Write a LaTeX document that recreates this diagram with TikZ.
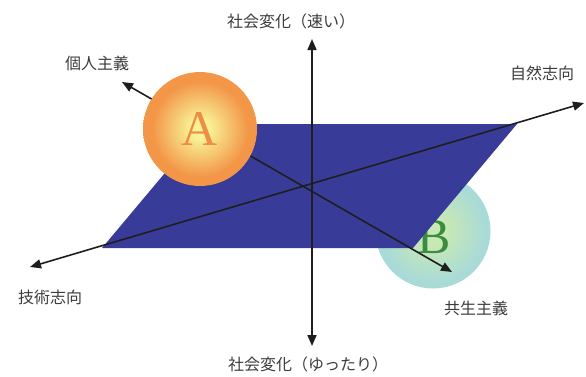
\documentclass[tikz,border=0pt]{standalone}
\usepackage{fontspec}
\newfontfamily\cjk{Noto Sans CJK JP}
\newfontfamily\serifA{Liberation Serif}
\usetikzlibrary{arrows.meta}
\definecolor{plane}{RGB}{56,60,152}
\definecolor{ayel}{RGB}{248,242,150}
\definecolor{aor}{RGB}{243,150,72}
\definecolor{aletter}{RGB}{240,140,70}
\definecolor{bgrn}{RGB}{200,232,180}
\definecolor{bteal}{RGB}{168,218,216}
\definecolor{bletter}{RGB}{58,140,64}
\definecolor{txt}{RGB}{60,60,60}
\definecolor{axiscol}{RGB}{30,30,30}
\pgfdeclareradialshading{ballA}{\pgfpoint{0bp}{0bp}}{color(0bp)=(ayel); color(4bp)=(ayel); color(21bp)=(aor); color(50bp)=(aor)}
\pgfdeclareradialshading{ballB}{\pgfpoint{0bp}{0bp}}{color(0bp)=(bgrn); color(6bp)=(bgrn); color(23bp)=(bteal); color(50bp)=(bteal)}
\tikzset{
  axisline/.style={draw=axiscol, line width=1.6pt, {Triangle[length=11pt,width=9pt]}-{Triangle[length=11pt,width=9pt]}},
  lbl/.style={text=txt, font=\cjk\fontsize{16}{18}\selectfont, inner sep=0pt},
  ballAstyle/.style={circle, minimum size=114pt, inner sep=0pt, shading=ballA},
  ballBstyle/.style={circle, minimum size=115pt, inner sep=0pt, shading=ballB},
  bigletter/.style={font=\serifA\fontsize{50}{50}\selectfont, inner sep=0pt}
}
\begin{document}
\begin{tikzpicture}[x=1pt,y=-1pt]
\useasboundingbox (0,0) rectangle (586,376);
% circle B behind the plane
\node[ballBstyle] (B) at (433,231) {};
\node[bigletter, text=bletter] (Blabel) at (434,237) {B};
% plane
\fill[plane] (206,124) -- (517,124) -- (413,248) -- (102,248) -- cycle;
% axes end points
\coordinate (up) at (312,39);
\coordinate (down) at (312,346);
\coordinate (tech) at (30,267);
\coordinate (nat) at (584,103);
\coordinate (ind) at (122,82);
\coordinate (sym) at (452,272);
\draw[axisline] (down) -- (up);
\draw[axisline] (tech) -- (nat);
\draw[axisline] (ind) -- (sym);
% circle A on top
\node[ballAstyle, text=aletter, font=\serifA\fontsize{50}{50}\selectfont] (A) at (200,129) {A};
% labels
\node[lbl] (tfast) at (291,21) {社会変化（速い）};
\node[lbl] (tslow) at (308,364) {社会変化（ゆったり）};
\node[lbl] (tind) at (97,63) {個人主義};
\node[lbl] (tnat) at (542,73) {自然志向};
\node[lbl] (ttech) at (50,297) {技術志向};
\node[lbl] (tsym) at (476,308) {共生主義};
\end{tikzpicture}
\end{document}
